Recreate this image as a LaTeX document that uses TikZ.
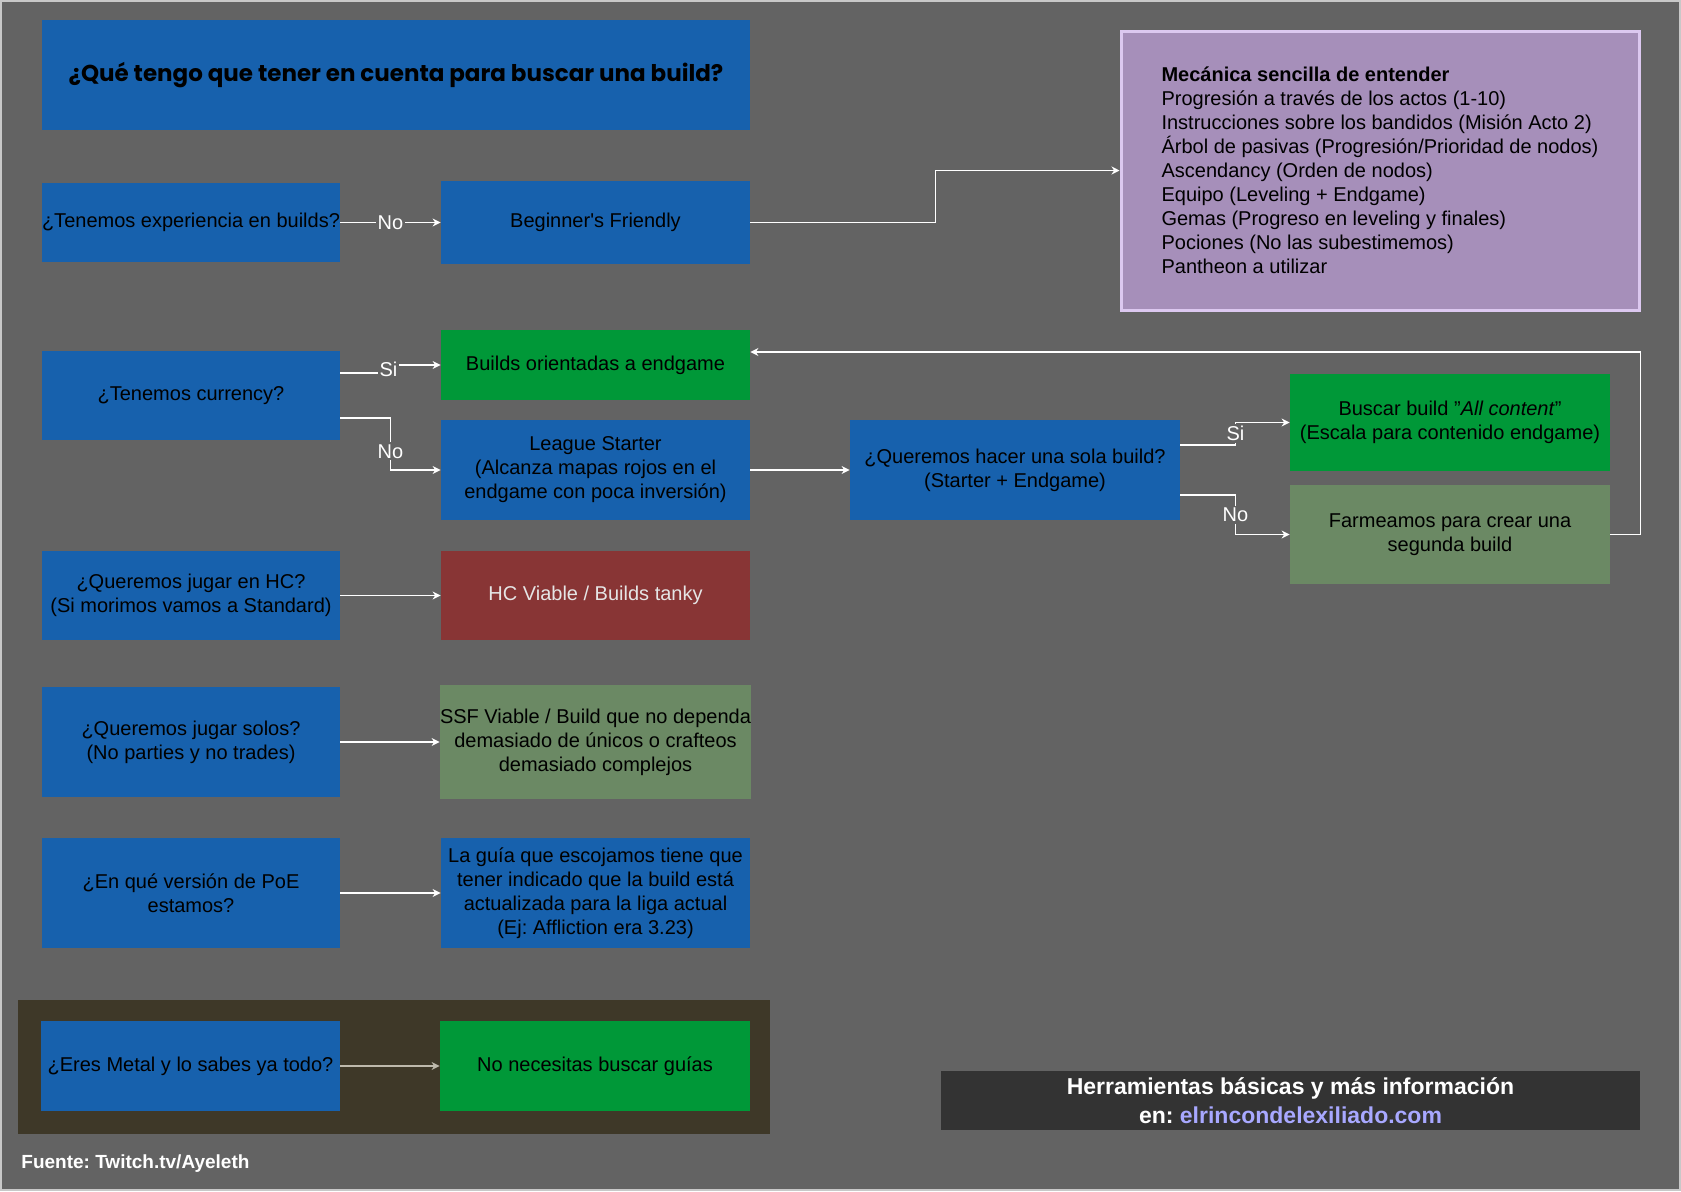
\documentclass[tikz,border=0pt]{standalone}
\usepackage{fontspec}
\setmainfont{Liberation Sans}
\newfontfamily\titlefont{Poppins}
\usepackage{xcolor}
\usepackage{tikz}
\usetikzlibrary{positioning,arrows.meta,calc}
\definecolor{bggray}{RGB}{99,99,99}
\definecolor{edgegray}{RGB}{200,200,200}
\definecolor{qblue}{RGB}{23,97,173}
\definecolor{okgreen}{RGB}{0,152,56}
\definecolor{olivegreen}{RGB}{107,137,100}
\definecolor{hcred}{RGB}{136,53,53}
\definecolor{mechpurple}{RGB}{166,143,186}
\definecolor{mechedge}{RGB}{220,200,240}
\definecolor{metalbrown}{RGB}{62,56,40}
\definecolor{metalline}{RGB}{190,185,172}
\definecolor{infogray}{RGB}{51,51,51}
\definecolor{linkblue}{RGB}{168,168,255}
\frenchspacing

\begin{document}
\begin{tikzpicture}[x=0.5pt, y=-0.5pt]
\tikzset{
  box/.style={rectangle, inner sep=0pt, align=center, text=black,
    font=\fontsize{10pt}{12pt}\selectfont},
  qbox/.style={box, fill=qblue, minimum width=149pt},
  abox/.style={box, minimum width=154.5pt},
  flw/.style={->, line width=0.6pt, >={Stealth[length=4pt,width=4pt]}, white},
  lbl/.style={fill=bggray, text=white, inner sep=1pt, font=\fontsize{10pt}{12pt}\selectfont}
}
\useasboundingbox (0,0) rectangle (1681,1191);
\fill[bggray] (0,0) rectangle (1681,1191);
\draw[edgegray, line width=0.8pt] (1,1) rectangle (1680,1190);

% title and checklist
\node[box, fill=qblue, minimum width=354pt, minimum height=55pt,
  font=\titlefont\bfseries\fontsize{11.5pt}{14pt}\selectfont] (title) at (396,75)
  {¿Qué tengo que tener en cuenta para buscar una build?};
\node[box, fill=mechpurple, draw=mechedge, line width=1.5pt, align=left,
  minimum width=259pt, minimum height=139.5pt] (mech) at (1380,170.5)
  {\textbf{Mecánica sencilla de entender}\\
   Progresión a través de los actos (1-10)\\
   Instrucciones sobre los bandidos (Misión Acto 2)\\
   Árbol de pasivas (Progresión/Prioridad de nodos)\\
   Ascendancy (Orden de nodos)\\
   Equipo (Leveling + Endgame)\\
   Gemas (Progreso en leveling y finales)\\
   Pociones (No las subestimemos)\\
   Pantheon a utilizar};

% questions and answers
\node[qbox, minimum height=39.5pt] (q1) at (191,222.5) {¿Tenemos experiencia en builds?};
\node[abox, fill=qblue, minimum height=41.5pt] (bf) at (595.5,222.5) {Beginner\textquotesingle s Friendly};

\node[qbox, minimum height=44.5pt] (q2) at (191,395.5) {¿Tenemos currency?};
\node[abox, fill=okgreen, minimum height=35pt] (endg) at (595.5,365) {Builds orientadas a endgame};
\node[abox, fill=qblue, minimum height=50pt] (lstart) at (595.5,470)
  {League Starter\\(Alcanza mapas rojos en el\\endgame con poca inversión)};
\node[box, fill=qblue, minimum width=165pt, minimum height=50pt] (qsola) at (1015,470)
  {¿Queremos hacer una sola build?\\(Starter + Endgame)};
\node[box, fill=okgreen, minimum width=160pt, minimum height=48.5pt] (allc) at (1450,422.5)
  {Buscar build "\textit{All content}"\\(Escala para contenido endgame)};
\node[box, fill=olivegreen, minimum width=160pt, minimum height=49.5pt] (farm) at (1450,534.5)
  {Farmeamos para crear una\\segunda build};

\node[qbox, minimum height=44.5pt] (qhc) at (191,595.5)
  {¿Queremos jugar en HC?\\(Si morimos vamos a Standard)};
\node[abox, fill=hcred, text=white!90!black, minimum height=44.5pt] (hc) at (595.5,595.5)
  {HC Viable / Builds tanky};

\node[qbox, minimum height=55pt] (qsolo) at (191,742)
  {¿Queremos jugar solos?\\(No parties y no trades)};
\node[abox, fill=olivegreen, minimum height=57pt] (ssf) at (595.5,742)
  {SSF Viable / Build que no dependa\\demasiado de únicos o crafteos\\demasiado complejos};

\node[qbox, minimum height=55pt] (qver) at (191,893)
  {¿En qué versión de PoE\\estamos?};
\node[abox, fill=qblue, minimum height=55pt] (guia) at (595.5,893)
  {La guía que escojamos tiene que\\tener indicado que la build está\\actualizada para la liga actual\\(Ej: Affliction era 3.23)};

\node[rectangle, fill=metalbrown, minimum width=376pt, minimum height=67pt] (metalbg) at (394,1067) {};
\node[qbox, minimum width=149.5pt, minimum height=45pt] (qmetal) at (190.5,1066)
  {¿Eres Metal y lo sabes ya todo?};
\node[abox, fill=okgreen, minimum width=155pt, minimum height=45pt] (noguia) at (595,1066)
  {No necesitas buscar guías};

% footer
\node[box, fill=infogray, text=white, minimum width=349.5pt, minimum height=29.5pt,
  font=\bfseries\fontsize{11.5pt}{14.5pt}\selectfont] (info) at (1290.5,1100.5)
  {Herramientas básicas y más información\\en: \textcolor{linkblue}{elrincondelexiliado.com}};
\node[anchor=west, inner sep=0pt, text=white, font=\bfseries\fontsize{9.5pt}{11pt}\selectfont] (src) at (21,1164)
  {Fuente: Twitch.tv/Ayeleth};

% connectors
\draw[flw] (q1) -- node[lbl] {No} (bf);
\draw[flw] (bf.east) -- ++(185,0) |- (mech.west);
\draw[flw] ($(q2.east)+(0,-22.5)$) -- ++(48,0) |- node[lbl,pos=0.25] {Si} (endg.west);
\draw[flw] ($(q2.east)+(0,22.5)$) -- ++(50,0) |- node[lbl,pos=0.32] {No} (lstart.west);
\draw[flw] (lstart) -- (qsola);
\draw[flw] ($(qsola.east)+(0,-25)$) -- ++(55,0) |- node[lbl,pos=0.25] {Si} (allc.west);
\draw[flw] ($(qsola.east)+(0,25)$) -- ++(55,0) |- node[lbl,pos=0.25] {No} (farm.west);
\draw[flw] (farm.east) -- ++(30,0) |- ($(endg.east)+(0,-13)$);
\draw[flw] (qhc) -- (hc);
\draw[flw] (qsolo) -- (ssf);
\draw[flw] (qver) -- (guia);
\draw[flw, metalline] (qmetal) -- (noguia);
\end{tikzpicture}
\end{document}
